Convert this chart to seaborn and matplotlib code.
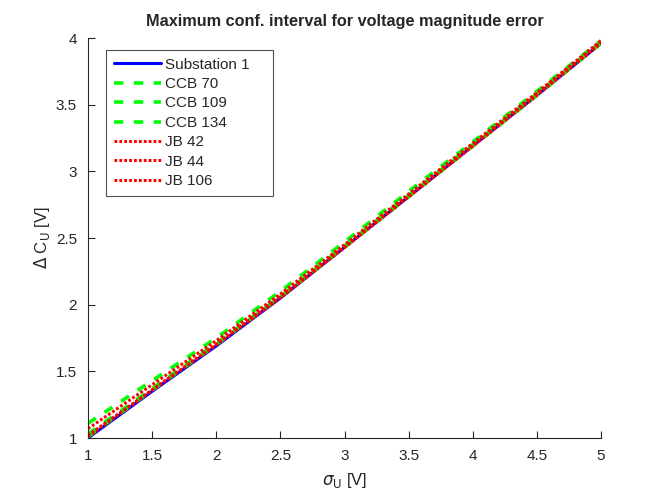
import numpy as np
import pandas as pd
import matplotlib
matplotlib.use("Agg")
import matplotlib.pyplot as plt
import seaborn as sns

# sigma_U [V]
sigma_u = [1.0, 1.5, 2.0, 2.5, 3.0, 3.5, 4.0, 4.5, 5.0]

# Delta C_U [V] per node
substation_1 = [1.00, 1.35, 1.69, 2.05, 2.43, 2.81, 3.19, 3.57, 3.96]
ccb_70 = [1.11, 1.43, 1.75, 2.10, 2.47, 2.85, 3.22, 3.60, 3.98]
ccb_109 = [1.03, 1.37, 1.71, 2.06, 2.44, 2.82, 3.20, 3.58, 3.97]
ccb_134 = [1.01, 1.36, 1.70, 2.06, 2.43, 2.81, 3.19, 3.57, 3.96]
jb_42 = [1.07, 1.40, 1.73, 2.08, 2.45, 2.83, 3.21, 3.59, 3.98]
jb_44 = [1.02, 1.36, 1.70, 2.06, 2.43, 2.81, 3.19, 3.58, 3.97]
jb_106 = [1.01, 1.36, 1.70, 2.05, 2.43, 2.81, 3.19, 3.57, 3.96]

series = [
    ("Substation 1", substation_1, "#0000ff", "-", 2.2),
    ("CCB 70", ccb_70, "#00ff00", (0, (2.6, 2.9)), 2.6),
    ("CCB 109", ccb_109, "#00ff00", (0, (2.6, 2.9)), 2.6),
    ("CCB 134", ccb_134, "#00ff00", (0, (2.6, 2.9)), 2.6),
    ("JB 42", jb_42, "#ff0000", (0, (0.9, 0.7)), 2.2),
    ("JB 44", jb_44, "#ff0000", (0, (0.9, 0.7)), 2.2),
    ("JB 106", jb_106, "#ff0000", (0, (0.9, 0.7)), 2.2),
]

sns.set_style("white")
plt.rcParams['font.family'] = ['Liberation Sans', 'DejaVu Sans']
plt.rcParams['axes.edgecolor'] = '#262626'
plt.rcParams['xtick.color'] = '#262626'
plt.rcParams['ytick.color'] = '#262626'

fig = plt.figure(figsize=(6.64, 4.98), dpi=100)
ax = fig.add_axes([88 / 664, 1 - 438 / 498, 513 / 664, 400 / 498])

for name, vals, col, ls, lw in series:
    sns.lineplot(x=sigma_u, y=vals, color=col, linestyle=ls, linewidth=lw,
                 label=name, ax=ax)

ax.set_xlim(1, 5)
ax.set_ylim(1, 4)
ax.set_xticks(np.arange(1, 5.01, 0.5))
ax.set_xticklabels(["1", "1.5", "2", "2.5", "3", "3.5", "4", "4.5", "5"])
ax.set_yticks(np.arange(1, 4.01, 0.5))
ax.set_yticklabels(["1", "1.5", "2", "2.5", "3", "3.5", "4"])
ax.tick_params(axis='both', which='major', bottom=True, left=True,
               direction='in', length=5, width=0.8, labelsize=11,
               labelcolor='#262626')
ax.tick_params(axis='x', pad=8)
ax.tick_params(axis='y', pad=8)
for s in ['top', 'right']:
    ax.spines[s].set_visible(False)
for s in ['left', 'bottom']:
    ax.spines[s].set_linewidth(0.8)

ax.set_title("Maximum conf. interval for voltage magnitude error",
             fontsize=11.7, fontweight='bold', pad=9)
ax.set_xlabel(r"$\sigma_{\rm U}$ [V]", fontsize=12, color='#262626', labelpad=6)
ax.set_ylabel(r"$\Delta$ C$_{\rm U}$ [V]", fontsize=12, color='#262626', labelpad=3)

leg = ax.legend(loc='upper left', bbox_to_anchor=(0.0351, 0.6075, 0.3255, 0.3625),
                mode='expand', fontsize=11,
                frameon=True, fancybox=False, edgecolor='#262626',
                handlelength=3.1, handletextpad=0.25, labelspacing=0.355,
                borderpad=0.5, borderaxespad=0)
leg.get_frame().set_linewidth(0.8)

fig.savefig("out.png", dpi=100)
